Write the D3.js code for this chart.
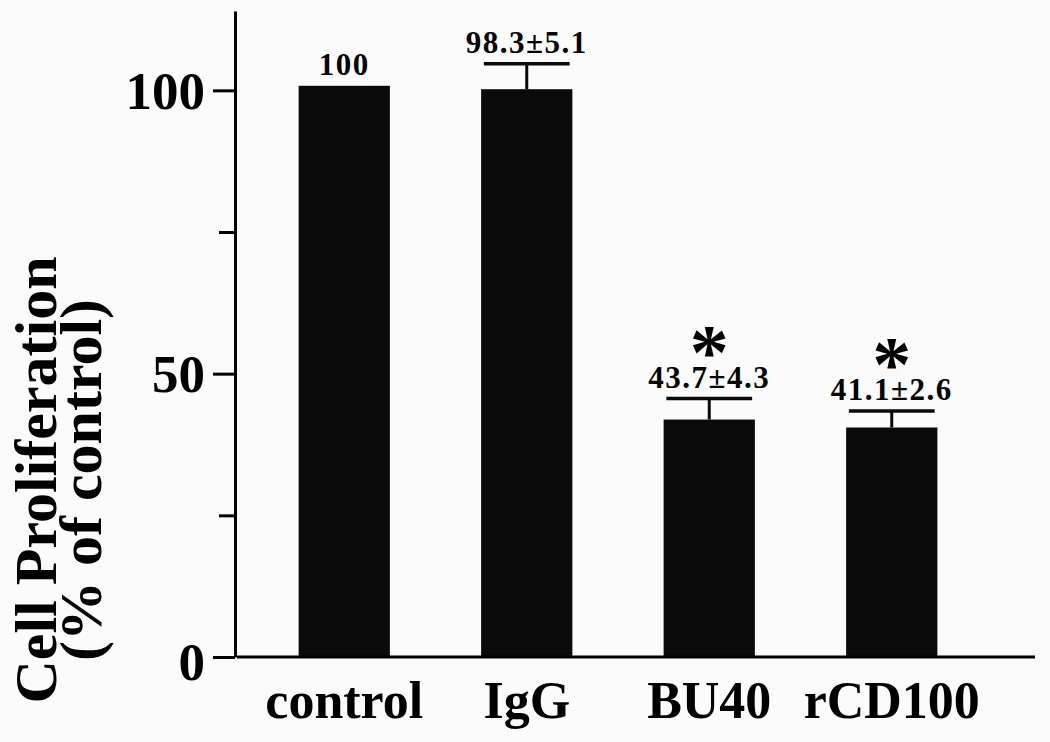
<!DOCTYPE html>
<html>
<head>
<meta charset="utf-8">
<script src="https://cdn.jsdelivr.net/npm/d3@7"></script>
<style>
  body { margin: 0; background: #fbfbfb; }
  text { font-family: "Liberation Serif", "Times New Roman", serif; font-weight: bold; fill: #000; }
</style>
</head>
<body>
<div id="viz"></div>
<script>
const width = 1050;
const height = 742;
const margin = {top: 11, right: 15, bottom: 85, left: 235};
const barColor = '#0a0a0a';

// values
const categories = ['control', 'IgG', 'BU40', 'rCD100'];
const barValues = [100.8, 100.2, 41.9, 40.5];
const errValues = [null, 4.5, 3.7, 2.9];
const valueLabels = ['100', '98.3\u00b15.1', '43.7\u00b14.3', '41.1\u00b12.6'];
const significant = [false, false, true, true];
const yTicks = [0, 25, 50, 75, 100];
const yTickLabels = ['0', '', '50', '', '100'];
const yTitle = ['Cell Proliferation', '(% of control)'];

const data = categories.map((c, i) => ({
  name: c,
  value: barValues[i],
  err: errValues[i],
  label: valueLabels[i],
  star: significant[i]
}));

const svg = d3.select('#viz')
  .append('svg')
  .attr('width', width)
  .attr('height', height);

const yScale = d3.scaleLinear()
  .domain([0, 114])
  .range([height - margin.bottom, margin.top]);

const xScale = d3.scaleBand()
  .domain(categories)
  .range([253, 983])
  .paddingInner(0.5)
  .paddingOuter(0.25);

const y0 = yScale(0);
const mid = d => xScale(d.name) + xScale.bandwidth() / 2;

// bars
svg.append('g')
  .attr('class', 'bars')
  .selectAll('rect')
  .data(data)
  .join('rect')
    .attr('x', d => xScale(d.name))
    .attr('y', d => yScale(d.value))
    .attr('width', xScale.bandwidth())
    .attr('height', d => y0 - yScale(d.value))
    .attr('fill', barColor);

// error bars (upper half only)
const errData = data.filter(d => d.err != null);
const capW = xScale.bandwidth() * 0.94;
const eb = svg.append('g').attr('class', 'errors');
eb.selectAll('.stem')
  .data(errData)
  .join('line')
    .attr('class', 'stem')
    .attr('x1', mid)
    .attr('x2', mid)
    .attr('y1', d => yScale(d.value))
    .attr('y2', d => yScale(d.value + d.err))
    .attr('stroke', barColor)
    .attr('stroke-width', 3);
eb.selectAll('.cap')
  .data(errData)
  .join('line')
    .attr('class', 'cap')
    .attr('x1', d => mid(d) - capW / 2)
    .attr('x2', d => mid(d) + capW / 2)
    .attr('y1', d => yScale(d.value + d.err))
    .attr('y2', d => yScale(d.value + d.err))
    .attr('stroke', barColor)
    .attr('stroke-width', 3.5);

// value labels
const labelBase = d => yScale(d.value + (d.err || 0)) - 11;
svg.append('g')
  .selectAll('text')
  .data(data)
  .join('text')
    .attr('x', mid)
    .attr('y', labelBase)
    .attr('text-anchor', 'middle')
    .attr('font-size', 31)
    .attr('letter-spacing', 1.5)
    .text(d => d.label);

// asterisks
svg.append('g')
  .selectAll('text')
  .data(data.filter(d => d.star))
  .join('text')
    .attr('x', mid)
    .attr('y', d => labelBase(d) - 10)
    .attr('text-anchor', 'middle')
    .attr('font-size', 78)
    .text('*');

// y axis
const yAxis = svg.append('g')
  .attr('class', 'y-axis')
  .attr('transform', `translate(${margin.left}, 0)`)
  .call(d3.axisLeft(yScale)
    .tickValues(yTicks)
    .tickFormat((d, i) => yTickLabels[i])
    .tickSize(22)
    .tickSizeOuter(0)
    .tickPadding(8));

yAxis.select('.domain')
  .attr('stroke', '#000')
  .attr('stroke-width', 3);
yAxis.selectAll('.tick line')
  .attr('stroke', '#000')
  .attr('stroke-width', 3)
  .attr('x2', d => d % 50 === 0 ? -22 : -16);
yAxis.selectAll('.tick text')
  .attr('font-size', 53)
  .attr('font-family', '"Liberation Serif", serif')
  .attr('dy', d => d === 0 ? '0.42em' : '0.34em');

// x baseline, drawn by hand
svg.append('line')
  .attr('x1', margin.left + 2)
  .attr('x2', width - margin.right)
  .attr('y1', y0)
  .attr('y2', y0)
  .attr('stroke', '#000')
  .attr('stroke-width', 3);

// category labels
svg.append('g')
  .selectAll('text')
  .data(categories)
  .join('text')
    .attr('x', d => xScale(d) + xScale.bandwidth() / 2)
    .attr('y', 718)
    .attr('text-anchor', 'middle')
    .attr('font-size', 52)
    .text(d => d);

// y title, two lines
svg.append('g')
  .attr('transform', 'translate(0, 480) rotate(-90)')
  .selectAll('text')
  .data(yTitle)
  .join('text')
    .attr('x', 0)
    .attr('y', (d, i) => 56 + i * 45)
    .attr('text-anchor', 'middle')
    .attr('font-size', 60)
    .text(d => d);
</script>
</body>
</html>
